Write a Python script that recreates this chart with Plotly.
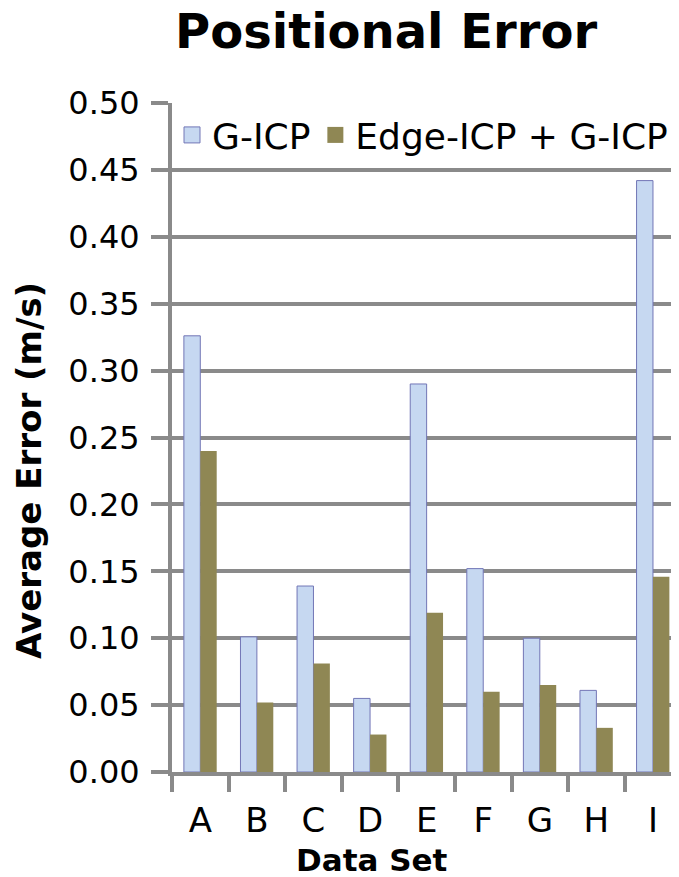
import plotly.graph_objects as go

categories = ["A", "B", "C", "D", "E", "F", "G", "H", "I"]
gicp = [0.326, 0.101, 0.139, 0.055, 0.290, 0.152, 0.100, 0.061, 0.442]
edge_gicp = [0.240, 0.052, 0.081, 0.028, 0.119, 0.060, 0.065, 0.033, 0.146]
series_names = ["G-ICP", "Edge-ICP + G-ICP"]

BLUE = "#c6d8f1"
BLUE_LINE = "#7276b6"
OLIVE = "#8f8754"
GRID = "#8a8a8a"
FONT = "DejaVu Sans"

# The page body has an 8px margin; the figure is sized so it fills the window.
OFF = 8
W, H = 679 - OFF, 877 - OFF - 1
PL, PT, PB = 172 - OFF, 103 - OFF, 772 - OFF  # plot left, top, bottom (figure px)
PW, PH = W - PL, PB - PT

fig = go.Figure()
fig.add_trace(go.Bar(x=categories, y=gicp, name=series_names[0],
                     marker=dict(color=BLUE, line=dict(color=BLUE_LINE, width=1)),
                     showlegend=False))
fig.add_trace(go.Bar(x=categories, y=edge_gicp, name=series_names[1],
                     marker=dict(color=OLIVE, line=dict(color=OLIVE, width=0)),
                     showlegend=False))
# legend swatches
fig.add_trace(go.Scatter(x=[None], y=[None], mode="markers", name=series_names[0],
                         marker=dict(symbol="square", size=20, color=BLUE,
                                     line=dict(color=BLUE_LINE, width=1))))
fig.add_trace(go.Scatter(x=[None], y=[None], mode="markers", name=series_names[1],
                         marker=dict(symbol="square", size=20, color=OLIVE,
                                     line=dict(color=OLIVE, width=0))))

fig.update_layout(
    width=W, height=H,
    margin=dict(l=PL, r=0, t=PT, b=H - PB, pad=0),
    paper_bgcolor="white", plot_bgcolor="white",
    font=dict(family=FONT, color="black", size=30),
    barmode="group", bargap=0.42, bargroupgap=0,
    showlegend=True,
    legend=dict(orientation="h", x=0.0, y=0.997, xanchor="left", yanchor="top",
                font=dict(size=36, family=FONT), bgcolor="rgba(0,0,0,0)",
                itemwidth=30, tracegroupgap=0, itemsizing="trace"),
    xaxis=dict(type="category", range=[-0.5, 8.46], tickson="boundaries",
               ticks="outside", ticklen=16, tickwidth=4, tickcolor=GRID,
               showline=True, linecolor=GRID, linewidth=4,
               showgrid=False, tickfont=dict(size=34), ticklabelstandoff=15),
    yaxis=dict(range=[0, 0.5], dtick=0.05, tickformat=".2f",
               ticks="outside", ticklen=17, tickwidth=4, tickcolor=GRID,
               showline=True, linecolor=GRID, linewidth=4,
               showgrid=True, gridcolor=GRID, gridwidth=4,
               zeroline=False, tickfont=dict(size=32), ticklabelstandoff=5),
    annotations=[
        dict(text="<b>Positional Error</b>", xref="paper", yref="paper",
             x=(386 - OFF - PL) / PW, y=1, yshift=PT - (31 - OFF), xanchor="center", yanchor="middle",
             showarrow=False, font=dict(size=48, family=FONT)),
        dict(text="<b>Data Set</b>", xref="paper", yref="paper",
             x=(372 - OFF - PL) / PW, y=0, yshift=-(860 - OFF - PB), xanchor="center", yanchor="middle",
             showarrow=False, font=dict(size=31, family=FONT)),
        dict(text="<b>Average Error (m/s)</b>", xref="paper", yref="paper",
             x=0, xshift=-(PL - (29 - OFF)), y=(PB - (471 - OFF)) / PH, xanchor="center", yanchor="middle",
             textangle=-90, showarrow=False, font=dict(size=34, family=FONT)),
    ],
)

fig.write_html("out.html")
